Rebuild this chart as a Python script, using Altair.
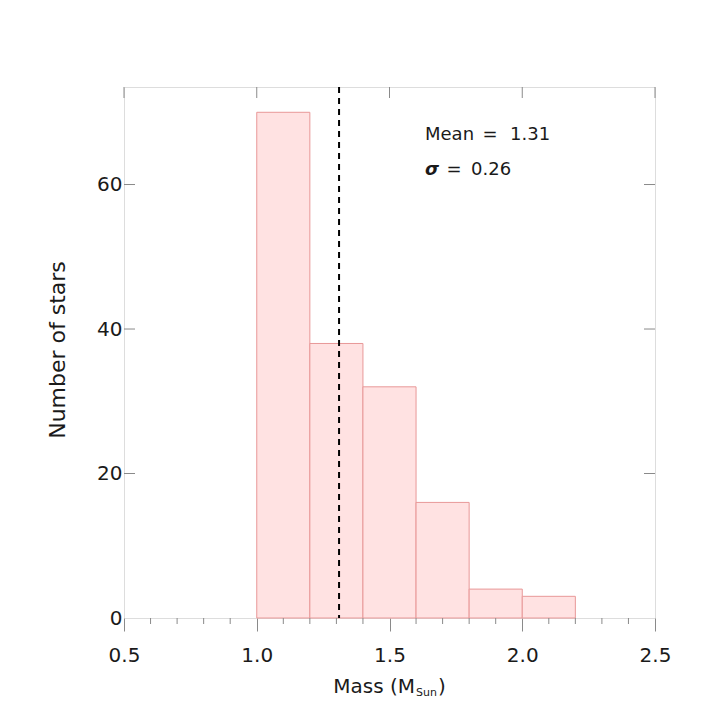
import altair as alt
import pandas as pd

# ---- data ----
bin_starts = [1.0, 1.2, 1.4, 1.6, 1.8, 2.0]
bin_ends = [1.2, 1.4, 1.6, 1.8, 2.0, 2.2]
counts = [70, 38, 32, 16, 4, 3]
mean_mass = [1.31]
mean_text = ["Mean", "=", "1.31"]
sigma_text = ["σ", "=", "0.26"]
x_major = [0.5, 1.0, 1.5, 2.0, 2.5]
x_minor = [0.6, 0.7, 0.8, 0.9, 1.1, 1.2, 1.3, 1.4, 1.6, 1.7, 1.8, 1.9,
           2.1, 2.2, 2.3, 2.4]
y_labels = [0, 20, 40, 60]
y_major = [20, 40, 60]
x_domain = [0.5, 2.5]
y_domain = [0, 73.5]
x_title = ["Mass (M", "Sun", ")"]
y_title = "Number of stars"

W, H = 531, 531
GRAY = "#8a8a8a"
TXT = "#1a1a1a"
FONT = "DejaVu Sans"

xs = alt.Scale(domain=x_domain, nice=False, zero=False)
ys = alt.Scale(domain=y_domain, nice=False, zero=False)

xaxis = alt.Axis(
    values=x_major, format=".1f", title=None, domain=False,
    ticks=True, tickSize=13, tickColor=GRAY, tickWidth=1,
    labelFont=FONT, labelFontSize=20, labelColor=TXT, labelPadding=14,
    grid=False, labelFlush=False)
yaxis = alt.Axis(
    values=y_labels, title=None, domain=False, ticks=False, tickSize=0,
    labelFont=FONT, labelFontSize=20, labelColor=TXT, labelPadding=2,
    grid=False, labelFlush=False, labelBaseline="middle")

bars_df = pd.DataFrame({"start": bin_starts, "end": bin_ends, "count": counts})

bars = alt.Chart(bars_df).mark_rect(
    fill="#ffe2e2", stroke="#e89898", strokeWidth=1
).encode(
    x=alt.X("start:Q", scale=xs, axis=xaxis),
    x2="end:Q",
    y=alt.Y("count:Q", scale=ys, axis=yaxis),
    y2=alt.datum(0),
)

mean_line = alt.Chart(pd.DataFrame({"m": mean_mass})).mark_rule(
    color="black", strokeDash=[6, 5], strokeWidth=2
).encode(x=alt.X("m:Q", scale=xs, axis=xaxis))

minor_df = pd.DataFrame({"v": x_minor})
xmaj_df = pd.DataFrame({"v": x_major})
ymaj_df = pd.DataFrame({"v": y_major})

bottom_minor = alt.Chart(minor_df).mark_rule(color=GRAY, strokeWidth=1).encode(
    x=alt.X("v:Q", scale=xs, axis=xaxis), y=alt.value(H), y2=alt.value(H + 6))
top_major = alt.Chart(xmaj_df).mark_rule(color=GRAY, strokeWidth=1).encode(
    x=alt.X("v:Q", scale=xs, axis=xaxis), y=alt.value(0), y2=alt.value(11))
left_major = alt.Chart(ymaj_df).mark_rule(color=GRAY, strokeWidth=1).encode(
    y=alt.Y("v:Q", scale=ys, axis=yaxis), x=alt.value(0), x2=alt.value(11))
right_major = alt.Chart(ymaj_df).mark_rule(color=GRAY, strokeWidth=1).encode(
    y=alt.Y("v:Q", scale=ys, axis=yaxis), x=alt.value(W - 11), x2=alt.value(W))


def txt(s, x, y, size=18, align="left", baseline="alphabetic", angle=0,
        style="normal", weight="normal"):
    kw = dict(font=FONT, fontSize=size, align=align, baseline=baseline,
              color=TXT, fontStyle=style, fontWeight=weight)
    if angle:
        kw["angle"] = angle
    return alt.Chart(pd.DataFrame({"t": [s]})).mark_text(**kw).encode(
        x=alt.value(x), y=alt.value(y), text="t:N")


annots = [
    txt(mean_text[0], 301, 53),
    txt(mean_text[1], 366, 53, align="center"),
    txt(mean_text[2], 386, 53),
    txt(sigma_text[0], 301, 88, style="italic", weight="bold"),
    txt(sigma_text[1], 330, 88, align="center"),
    txt(sigma_text[2], 347, 88),
    txt(x_title[0], 291, 606, size=20, align="right"),
    txt(x_title[1], 292, 609, size=11),
    txt(x_title[2], 314, 606, size=20),
    txt(y_title, -66, 263, size=22, align="center", baseline="middle", angle=270),
]

chart = alt.layer(
    bars, mean_line, bottom_minor, top_major, left_major, right_major, *annots
).properties(
    width=W, height=H,
    autosize=alt.AutoSizeParams(type="none"),
    padding={"left": 116, "top": 79, "right": 40, "bottom": 80},
).configure_view(
    stroke=GRAY, strokeWidth=1.5
).configure(background="white")

chart.save("out.html", embed_options={"renderer": "svg", "actions": False})
